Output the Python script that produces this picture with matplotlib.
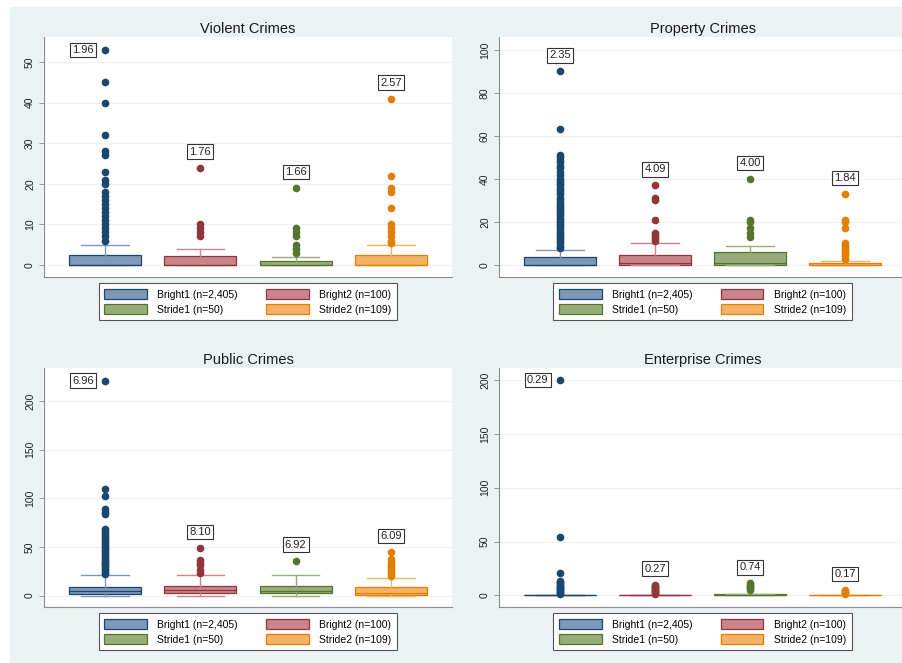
import matplotlib
matplotlib.use('Agg')
import matplotlib.pyplot as plt
from matplotlib.patches import Rectangle

plt.rcParams['font.family'] = ['Liberation Sans', 'DejaVu Sans']

# Data.
groups = ['Bright1 (n=2,405)', 'Bright2 (n=100)', 'Stride1 (n=50)', 'Stride2 (n=109)']
titles = ['Violent Crimes', 'Property Crimes', 'Public Crimes', 'Enterprise Crimes']

violent_q1   = [0, 0, 0, 0]
violent_med  = [0, 0, 0, 0]
violent_q3   = [2.4, 2.3, 1, 2.4]
violent_lo   = [0, 0, 0, 0]
violent_hi   = [5, 4, 2, 5]
violent_out  = [[53, 45, 40, 32, 28, 27, 23, 21, 20, 18, 17, 16, 15, 14, 13, 12, 11, 10, 9, 8, 7, 6],
                [24, 10, 9, 8, 7],
                [19, 9, 8, 7, 5, 4, 3],
                [41, 22, 19, 18, 14, 10, 9, 8, 7, 6, 5.5]]
violent_mean = ['1.96', '1.76', '1.66', '2.57']

property_q1   = [0, 0, 0, 0]
property_med  = [0, 1, 1, 0]
property_q3   = [3.5, 4.5, 6, 1]
property_lo   = [0, 0, 0, 0]
property_hi   = [7, 10, 9, 2]
property_out  = [[90, 63, 51, 50, 49, 48, 46, 45, 43, 42, 40, 39, 38, 37, 36, 35, 34, 33, 31, 30, 29, 28,
                  27, 26, 25, 24, 23, 22, 21, 20, 19, 18, 17, 16, 15, 14, 13, 12, 11, 10, 9, 8],
                 [37, 31, 30, 21, 15, 14, 13, 12, 11],
                 [40, 21, 20, 17, 15, 13],
                 [33, 21, 20, 17, 10, 9, 8, 7, 6, 5, 4, 3]]
property_mean = ['2.35', '4.09', '4.00', '1.84']

public_q1   = [2, 3, 3, 1]
public_med  = [5, 6, 5, 3]
public_q3   = [9, 10, 10, 8.5]
public_lo   = [0, 0, 0, 0]
public_hi   = [21, 21, 21, 18]
public_out  = [[221, 110, 102, 89, 86, 84, 68, 66, 64, 62, 60, 58, 56, 54, 52, 50, 48, 46, 44, 42, 40,
                38, 36, 34, 32, 30, 28, 26, 24, 22],
               [49, 37, 34, 31, 26, 23],
               [36],
               [45, 38, 35, 32, 30, 28, 26, 24, 22, 20]]
public_mean = ['6.96', '8.10', '6.92', '6.09']

enterprise_q1   = [0, 0, 0, 0]
enterprise_med  = [0, 0, 0, 0]
enterprise_q3   = [0, 0, 1, 0]
enterprise_lo   = [0, 0, 0, 0]
enterprise_hi   = [0, 0, 1, 0]
enterprise_out  = [[200, 54, 21, 13, 12, 11, 10, 9, 8, 7, 6, 5, 4, 3, 2, 1],
                   [10, 9, 8, 7, 6, 5, 4, 3, 2, 1],
                   [11, 10, 9, 8, 7, 5],
                   [5, 4, 3, 2, 1]]
enterprise_mean = ['0.29', '0.27', '0.74', '0.17']

panels = [
  (violent_q1, violent_med, violent_q3, violent_lo, violent_hi, violent_out, violent_mean),
  (property_q1, property_med, property_q3, property_lo, property_hi, property_out, property_mean),
  (public_q1, public_med, public_q3, public_lo, public_hi, public_out, public_mean),
  (enterprise_q1, enterprise_med, enterprise_q3, enterprise_lo, enterprise_hi, enterprise_out, enterprise_mean),
]

# Styling.
dark  = ['#1a476f', '#90353b', '#55752f', '#e37e00']
fill  = ['#7f98b8', '#c9848c', '#97ad79', '#f5b266']
ylims = [(-3, 56.2), (-5.6, 106), (-11.7, 234), (-10.9, 211.4)]
ytks  = [range(0, 51, 10), range(0, 101, 20), range(0, 201, 50), range(0, 201, 50)]
W, H = 903, 663
rects = [(44, 37, 452, 277), (499, 37, 906, 277), (44, 368, 452, 607), (499, 368, 906, 607)]

fig = plt.figure(figsize=(W/100, H/100), dpi=100)
fig.patches.append(Rectangle((10/W, 0), 1, 1 - 7/H, transform=fig.transFigure,
                             color='#eaf2f3', zorder=-10))

for k, (q1, med, q3, lo, hi, out, mean) in enumerate(panels):
  l, t, r, b = rects[k]
  ax = fig.add_axes([l/W, 1 - b/H, (r - l)/W, (b - t)/H])
  ax.set_facecolor('white')
  boxes = []
  for i in range(4):
    st = dict(q1=q1[i], med=med[i], q3=q3[i], whislo=lo[i], whishi=hi[i], fliers=out[i])
    bp = ax.bxp([st], positions=[i + 1], widths=0.755, capwidths=0.5, patch_artist=True,
                manage_ticks=False,
                boxprops=dict(facecolor=fill[i], edgecolor=dark[i], lw=0.9),
                medianprops=dict(color=dark[i], lw=0.9),
                whiskerprops=dict(color=fill[i], lw=1.0),
                capprops=dict(color=fill[i], lw=1.0),
                flierprops=dict(marker='o', markerfacecolor=dark[i], markeredgecolor=dark[i],
                                markersize=4.5, linestyle='none'))
    boxes.append(bp['boxes'][0])
    top = max(out[i])
    if top > 0.9*ylims[k][1]:
      off = (-22, 0)
    else:
      off = (0, 16)
    ax.annotate(mean[i], (i + 1, top), xytext=off, textcoords='offset pixels',
                ha='center', va='center', fontsize=8, color='#222222',
                bbox=dict(boxstyle='square,pad=0.2', fc='white', ec='#333333', lw=0.8))

  ax.set_xlim(0.36, 4.64)
  ax.set_ylim(*ylims[k])
  ax.set_yticks(list(ytks[k]))
  ax.set_xticks([])
  ax.yaxis.grid(True, color='#eaf2f3', lw=0.9)
  ax.set_axisbelow(True)
  for s in ['top', 'right']:
    ax.spines[s].set_visible(False)
  for s in ['left', 'bottom']:
    ax.spines[s].set_color('#8a8a8a')
    ax.spines[s].set_linewidth(0.8)
  ax.tick_params(axis='y', length=3.5, width=0.6, color='#8a8a8a', labelsize=7.5,
                 labelcolor='#222222', pad=3)
  plt.setp(ax.get_yticklabels(), rotation=90, va='center')
  ax.set_title(titles[k], fontsize=10.5, color='#1a1a1a', pad=3)

  leg = ax.legend([boxes[0], boxes[2], boxes[1], boxes[3]],
                  [groups[0], groups[2], groups[1], groups[3]],
                  loc='upper center', bbox_to_anchor=(0.5, -0.025), borderaxespad=0,
                  ncol=2, fontsize=7.5,
                  fancybox=False, framealpha=1, edgecolor='#555555',
                  handlelength=4.1, handleheight=1.2, columnspacing=2.7, borderpad=0.55,
                  labelspacing=0.4, handletextpad=1.0)
  leg.get_frame().set_linewidth(0.8)

fig.savefig('out.png', dpi=100)
plt.close()
